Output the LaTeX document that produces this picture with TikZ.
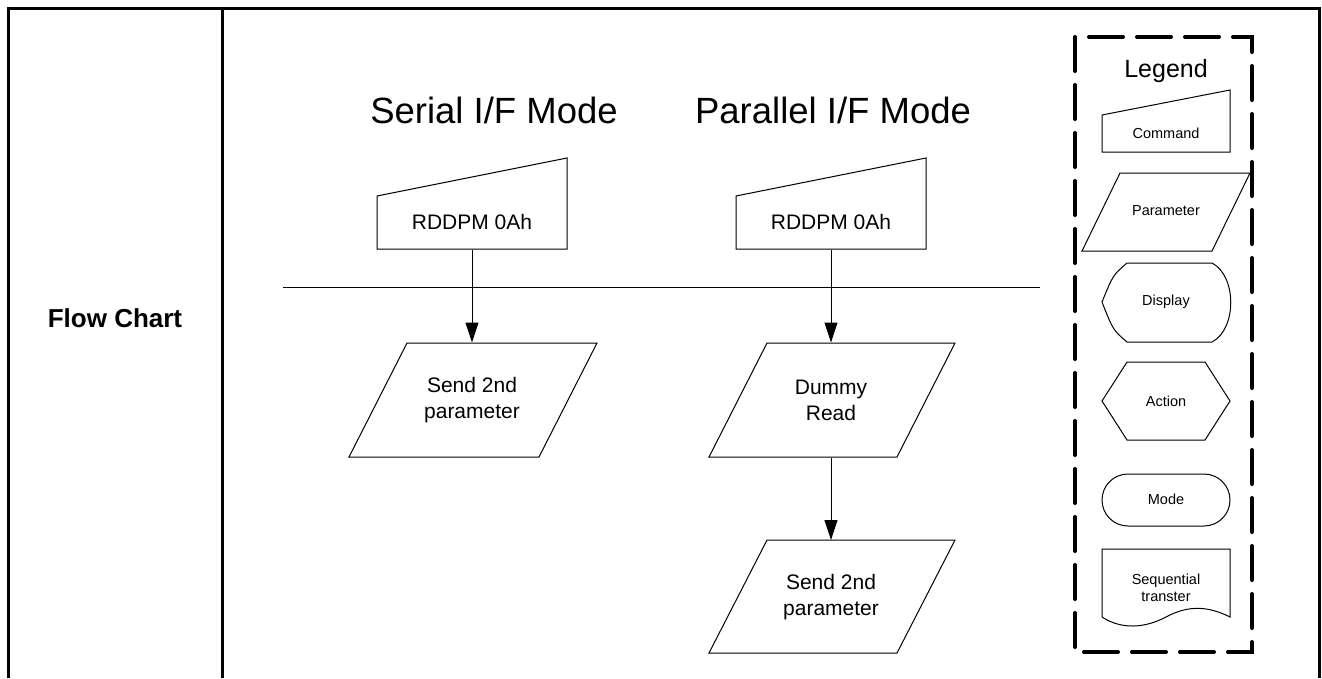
\documentclass[tikz,border=0pt]{standalone}
\usepackage{fontspec}
\setmainfont{Liberation Sans}
\usetikzlibrary{arrows.meta,positioning}

\tikzset{
  flowarr/.style={-{Triangle[width=13pt,length=20pt]}},
  steptxt/.style={font=\fontsize{21}{26}\selectfont,align=center,inner sep=0pt},
  legtxt/.style={font=\fontsize{14.5}{17}\selectfont,align=center,inner sep=0pt},
  hdtxt/.style={font=\fontsize{36.5}{44}\selectfont,anchor=base,inner sep=0pt}
}

\begin{document}
\begin{tikzpicture}[x=1pt,y=-1pt,line width=1pt]
  \useasboundingbox (0,0) rectangle (1322,678);
  % table frame
  \draw[line width=3pt] (8,678) -- (8,8) -- (1319,8) -- (1319,678);
  \draw[line width=3pt] (222,8) -- (222,678);
  \node[font=\bfseries\fontsize{26}{31}\selectfont] (fc) at (115,318) {Flow Chart};
  % serial I/F
  \node[hdtxt] (serT) at (494,123) {Serial I/F Mode};
  \draw (377,249) -- (567,249) -- (567,158) -- (377,196) -- cycle;
  \node[steptxt,minimum height=54pt] (serCmd) at (472,222) {RDDPM 0Ah};
  \draw (407,343) -- (597,343) -- (539,457) -- (349,457) -- cycle;
  \node[steptxt,minimum height=114pt] (serPar) at (472,400) {Send 2nd\\parameter};
  \draw[flowarr] (serCmd.south) -- (serPar.north);
  % parallel I/F
  \node[hdtxt] (parT) at (833,123) {Parallel I/F Mode};
  \draw (736,249) -- (926,249) -- (926,158) -- (736,196) -- cycle;
  \node[steptxt,minimum height=54pt] (parCmd) at (831,222) {RDDPM 0Ah};
  \draw (767,343) -- (955,343) -- (897,457) -- (709,457) -- cycle;
  \node[steptxt,minimum height=114pt] (parDummy) at (831,400) {Dummy\\Read};
  \draw (767,540) -- (955,540) -- (897,653) -- (709,653) -- cycle;
  \node[steptxt,minimum height=113pt] (parPar) at (831,597) {Send 2nd\\parameter};
  \draw[flowarr] (parCmd.south) -- (parDummy.north);
  \draw[flowarr] (parDummy.south) -- (parPar.north);
  % mode separator
  \draw (283,287) -- (1040,287);
  % legend
  \draw[line width=4pt,dash pattern=on 34pt off 14pt,line cap=round] (1075,37) rectangle (1252,652);
  \node[font=\fontsize{25}{30}\selectfont,anchor=base,inner sep=0pt] (legT) at (1166,77) {Legend};
  \draw (1102,152) -- (1230,152) -- (1230,90) -- (1102,115) -- cycle;
  \node[legtxt] (legCmd) at (1166,133) {Command};
  \draw (1120,173) -- (1250,173) -- (1212,251) -- (1082,251) -- cycle;
  \node[legtxt] (legPar) at (1166,211) {Parameter};
  \draw (1127,263) -- (1212,263) .. controls (1237,276) and (1237,329) .. (1212,342)
    -- (1127,342) .. controls (1113,330) .. (1102,302) .. controls (1113,275) .. cycle;
  \node[legtxt] (legDisp) at (1166,302) {Display};
  \draw (1127,362) -- (1205,362) -- (1230,401) -- (1205,440) -- (1127,440) -- (1102,401) -- cycle;
  \node[legtxt] (legAct) at (1166,401) {Action};
  \draw[rounded corners=26pt] (1102,474) rectangle (1230,526);
  \node[legtxt] (legMode) at (1166,499) {Mode};
  \draw (1102,617) -- (1102,549) -- (1230,549) -- (1230,617)
    .. controls (1210,607) and (1190,604) .. (1166,617) .. controls (1145,628) and (1122,630) .. cycle;
  \node[legtxt] (legSeq) at (1166,588) {Sequential\\transter};
\end{tikzpicture}
\end{document}
